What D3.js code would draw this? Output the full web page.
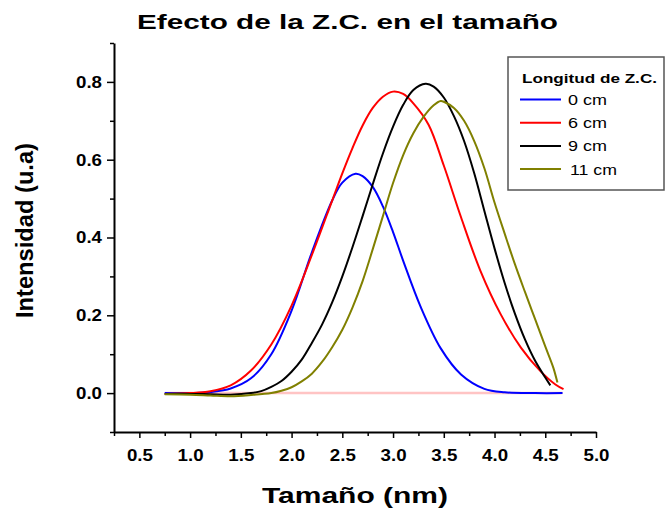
<!DOCTYPE html>
<html>
<head>
<meta charset="utf-8">
<script src="https://cdn.jsdelivr.net/npm/d3@7"></script>
<style>
  body { margin: 0; background: #fff; }
  text { font-family: "Liberation Sans", Arial, sans-serif; }
</style>
</head>
<body>
<div id="chart"></div>
<script>
// Data
const seriesNames = ["0 cm", "6 cm", "9 cm", "11 cm"];

const x0 = [0.75, 1.0, 1.2, 1.4, 1.6, 1.8, 2.0, 2.2, 2.4, 2.5, 2.63, 2.7, 2.8, 2.9, 3.0, 3.1, 3.27, 3.47, 3.67, 3.9, 4.1, 4.4, 4.67];
const y0 = [0.0, 0.0, 0.003, 0.012, 0.038, 0.1, 0.212, 0.362, 0.495, 0.541, 0.564, 0.558, 0.53, 0.48, 0.414, 0.34, 0.223, 0.115, 0.048, 0.011, 0.002, 0.0, 0.0];

const x6 = [0.75, 1.0, 1.2, 1.4, 1.6, 1.8, 2.0, 2.2, 2.4, 2.5, 2.6, 2.7, 2.8, 2.9, 3.0, 3.1, 3.2, 3.35, 3.5, 3.67, 3.86, 4.06, 4.26, 4.45, 4.6, 4.68];
const y6 = [-0.002, 0.0, 0.005, 0.02, 0.058, 0.125, 0.225, 0.355, 0.495, 0.565, 0.63, 0.688, 0.733, 0.762, 0.775, 0.769, 0.745, 0.69, 0.585, 0.452, 0.315, 0.203, 0.117, 0.057, 0.022, 0.01];

const x9 = [0.75, 1.0, 1.2, 1.4, 1.6, 1.7, 1.8, 1.9, 2.0, 2.1, 2.2, 2.3, 2.4, 2.5, 2.6, 2.7, 2.8, 2.9, 3.0, 3.1, 3.2, 3.32, 3.4, 3.5, 3.6, 3.7, 3.8, 3.9, 4.0, 4.1, 4.2, 4.3, 4.4, 4.5, 4.55];
const y9 = [-0.002, -0.002, -0.003, -0.004, 0.0, 0.005, 0.016, 0.031, 0.055, 0.086, 0.129, 0.176, 0.233, 0.3, 0.375, 0.455, 0.537, 0.616, 0.685, 0.741, 0.779, 0.795, 0.788, 0.76, 0.712, 0.648, 0.565, 0.468, 0.372, 0.283, 0.205, 0.138, 0.083, 0.04, 0.02];

const x11 = [0.75, 1.0, 1.2, 1.4, 1.6, 1.8, 1.9, 2.0, 2.1, 2.2, 2.3, 2.4, 2.5, 2.6, 2.7, 2.8, 2.9, 3.0, 3.1, 3.2, 3.3, 3.4, 3.47, 3.5, 3.6, 3.7, 3.8, 3.9, 4.0, 4.1, 4.2, 4.3, 4.4, 4.5, 4.58, 4.62];
const y11 = [-0.003, -0.004, -0.006, -0.008, -0.005, 0.0, 0.006, 0.015, 0.03, 0.05, 0.08, 0.118, 0.163, 0.22, 0.288, 0.37, 0.455, 0.54, 0.612, 0.668, 0.71, 0.74, 0.751, 0.749, 0.733, 0.7, 0.648, 0.578, 0.49, 0.41, 0.332, 0.26, 0.19, 0.12, 0.065, 0.027];

// zero line
const baseX = [0.75, 4.67];
const baseY = [0, 0];

const xTicks = [0.5, 1.0, 1.5, 2.0, 2.5, 3.0, 3.5, 4.0, 4.5, 5.0];
const xMinor = [0.25, 0.75, 1.25, 1.75, 2.25, 2.75, 3.25, 3.75, 4.25, 4.75];
const yTicks = [0.0, 0.2, 0.4, 0.6, 0.8];
const yMinor = [-0.1, 0.1, 0.3, 0.5, 0.7, 0.9];

const colors = ["#0000ff", "#ff0000", "#000000", "#808000"];

const W = 666, H = 510;

const svg = d3.select("#chart")
  .append("svg")
  .attr("width", W)
  .attr("height", H);

// Scales
const x = d3.scaleLinear().domain([0.25, 5.0]).range([114, 596]);
const y = d3.scaleLinear().domain([-0.1, 0.9]).range([432, 43]);

// Title
svg.append("text")
  .attr("x", 137).attr("y", 29)
  .attr("textLength", 421).attr("lengthAdjust", "spacingAndGlyphs")
  .style("font-size", "21px").style("font-weight", "bold")
  .text("Efecto de la Z.C. en el tamaño");

// Minor ticks
svg.append("g")
  .attr("transform", "translate(0,432)")
  .call(d3.axisBottom(x).tickValues(xMinor).tickSize(4).tickFormat(""))
  .call(g => g.select(".domain").remove())
  .selectAll("line").attr("stroke-width", 1.5);

svg.append("g")
  .attr("transform", "translate(114,0)")
  .call(d3.axisLeft(y).tickValues(yMinor).tickSize(4).tickFormat(""))
  .call(g => g.select(".domain").remove())
  .selectAll("line").attr("stroke-width", 1.5);

// X axis
const gx = svg.append("g")
  .attr("transform", "translate(0,432)")
  .call(d3.axisBottom(x).tickValues(xTicks).tickSize(6).tickPadding(11)
    .tickSizeOuter(0).tickFormat(d3.format(".1f")));
gx.select(".domain").attr("stroke-width", 2);
gx.selectAll("line").attr("stroke-width", 1.5);
gx.selectAll("text")
  .attr("textLength", 26).attr("lengthAdjust", "spacingAndGlyphs")
  .style("font-size", "17px").style("font-weight", "bold")
  .style("font-family", "'Liberation Sans', Arial, sans-serif");

// Y axis
const gy = svg.append("g")
  .attr("transform", "translate(114,0)")
  .call(d3.axisLeft(y).tickValues(yTicks).tickSize(7).tickPadding(5)
    .tickSizeOuter(0).tickFormat(d3.format(".1f")));
gy.select(".domain").attr("stroke-width", 2);
gy.selectAll("line").attr("stroke-width", 1.5);
gy.selectAll("text")
  .attr("textLength", 26).attr("lengthAdjust", "spacingAndGlyphs")
  .style("font-size", "17px").style("font-weight", "bold")
  .style("font-family", "'Liberation Sans', Arial, sans-serif");

// Axis labels
svg.append("text")
  .attr("x", 262).attr("y", 503)
  .attr("textLength", 186).attr("lengthAdjust", "spacingAndGlyphs")
  .style("font-size", "22px").style("font-weight", "bold")
  .text("Tamaño (nm)");

svg.append("text")
  .attr("transform", "translate(33,318) rotate(-90)")
  .attr("textLength", 175).attr("lengthAdjust", "spacingAndGlyphs")
  .style("font-size", "23px").style("font-weight", "bold")
  .text("Intensidad (u.a)");

// Lines
const line = d3.line()
  .x(d => x(d[0]))
  .y(d => y(d[1]))
  .curve(d3.curveCatmullRom.alpha(0.5));

svg.append("path")
  .datum(d3.zip(baseX, baseY))
  .attr("fill", "none")
  .attr("stroke", "#ffc4c4")
  .attr("stroke-width", 2.5)
  .attr("d", line);

const seriesX = [x0, x6, x9, x11];
const seriesY = [y0, y6, y9, y11];

seriesNames.forEach((name, i) => {
  svg.append("path")
    .datum(d3.zip(seriesX[i], seriesY[i]))
    .attr("fill", "none")
    .attr("stroke", colors[i])
    .attr("stroke-width", 2)
    .attr("d", line);
});

// Legend
const legend = svg.append("g");
legend.append("rect")
  .attr("x", 508).attr("y", 57)
  .attr("width", 156).attr("height", 133)
  .attr("fill", "#fff")
  .attr("stroke", "#555")
  .attr("stroke-width", 1.5);

legend.append("text")
  .attr("x", 522).attr("y", 83)
  .attr("textLength", 135).attr("lengthAdjust", "spacingAndGlyphs")
  .style("font-size", "12.5px").style("font-weight", "bold")
  .text("Longitud de Z.C.");

seriesNames.forEach((name, i) => {
  const ly = 99.5 + i * 23.2;
  legend.append("line")
    .attr("x1", 520).attr("x2", 561)
    .attr("y1", ly).attr("y2", ly)
    .attr("stroke", colors[i])
    .attr("stroke-width", 2);
  legend.append("text")
    .attr("x", i === 3 ? 570 : 568).attr("y", ly + 5.5)
    .attr("textLength", i === 3 ? 47 : 39).attr("lengthAdjust", "spacingAndGlyphs")
    .style("font-size", "14px")
    .text(name);
});
</script>
</body>
</html>
